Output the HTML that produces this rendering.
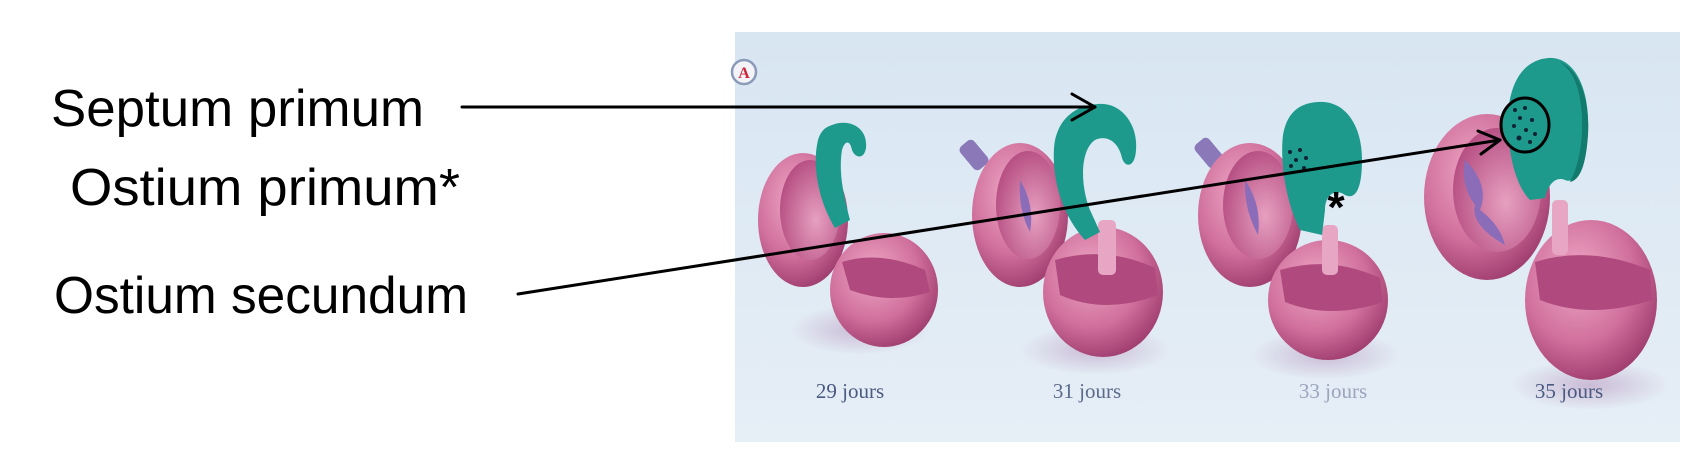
<!DOCTYPE html>
<html><head><meta charset="utf-8"><style>
html,body{margin:0;padding:0;background:#fff;}
svg{display:block}
</style></head><body>
<svg width="1692" height="460" viewBox="0 0 1692 460" xmlns="http://www.w3.org/2000/svg">
<defs>
<linearGradient id="bg" x1="0" y1="0" x2="0" y2="1">
<stop offset="0" stop-color="#d8e6f2"/><stop offset="1" stop-color="#e6eef6"/></linearGradient>
<radialGradient id="pk" cx="0.4" cy="0.35" r="0.7">
<stop offset="0" stop-color="#eea8c6"/><stop offset="0.6" stop-color="#d06f9c"/><stop offset="1" stop-color="#9c3a6c"/></radialGradient>
<radialGradient id="pkin" cx="0.6" cy="0.6" r="0.7">
<stop offset="0" stop-color="#e6a0c0"/><stop offset="1" stop-color="#b2477d"/></radialGradient>
<radialGradient id="sh" cx="0.5" cy="0.5" r="0.5">
<stop offset="0" stop-color="#c0a6c8" stop-opacity="0.7"/><stop offset="1" stop-color="#c0a6c8" stop-opacity="0"/></radialGradient>
</defs>
<rect x="0" y="0" width="1692" height="460" fill="#fff"/>
<rect x="735" y="32" width="945" height="410" fill="url(#bg)"/>
<circle cx="744" cy="72" r="12" fill="#f4f4f8" stroke="#8a9ab8" stroke-width="2.5"/>
<text x="744" y="78" font-family="Liberation Serif, serif" font-size="16" font-weight="bold" fill="#c8283a" text-anchor="middle">A</text>

<!-- Heart 1 -->
<ellipse cx="860" cy="330" rx="70" ry="25" fill="url(#sh)"/>
<ellipse cx="803" cy="220" rx="45" ry="67" fill="url(#pk)"/>
<ellipse cx="810" cy="210" rx="30" ry="50" fill="url(#pkin)"/>
<ellipse cx="884" cy="290" rx="54" ry="57" fill="url(#pk)"/>
<path d="M842 262 Q880 250 925 270 L930 292 Q890 305 850 290 Z" fill="#b04a7e"/>
<path d="M832 125 C850 118 868 128 866 148 C864 160 855 158 852 150 C850 140 845 140 842 150 C838 175 845 200 850 220 L835 228 C818 200 812 165 818 140 C821 130 826 127 832 125 Z" fill="#1e9a8c"/>

<!-- Heart 2 -->
<rect x="965" y="140" width="18" height="30" rx="5" fill="#8a78b8" transform="rotate(-40 974 155)"/>
<ellipse cx="1095" cy="350" rx="75" ry="25" fill="url(#sh)"/>
<ellipse cx="1020" cy="215" rx="48" ry="72" fill="url(#pk)"/>
<ellipse cx="1028" cy="205" rx="32" ry="54" fill="url(#pkin)"/>
<path d="M1020 180 Q1035 205 1030 232 Q1018 210 1020 180 Z" fill="#8a6cb8"/>
<ellipse cx="1103" cy="292" rx="60" ry="65" fill="url(#pk)"/>
<path d="M1055 260 Q1105 245 1155 268 L1158 295 Q1105 315 1060 295 Z" fill="#b04a7e"/>
<rect x="1098" y="220" width="18" height="55" rx="5" fill="#e6a6c4"/>
<path d="M1098 104 C1122 102 1138 125 1136 150 C1135 168 1125 168 1122 158 C1118 140 1105 135 1095 140 C1080 150 1080 185 1090 210 L1100 232 L1085 240 C1062 215 1052 180 1054 148 C1056 120 1075 105 1098 104 Z" fill="#1e9a8c"/>

<!-- Heart 3 -->
<rect x="1200" y="138" width="18" height="30" rx="5" fill="#8a78b8" transform="rotate(-40 1209 153)"/>
<ellipse cx="1325" cy="355" rx="75" ry="25" fill="url(#sh)"/>
<ellipse cx="1250" cy="215" rx="52" ry="72" fill="url(#pk)"/>
<ellipse cx="1258" cy="205" rx="35" ry="54" fill="url(#pkin)"/>
<path d="M1245 180 Q1262 205 1258 235 Q1244 210 1245 180 Z" fill="#8a6cb8"/>
<ellipse cx="1328" cy="300" rx="60" ry="60" fill="url(#pk)"/>
<path d="M1280 270 Q1330 255 1380 278 L1383 302 Q1330 320 1285 302 Z" fill="#b04a7e"/>
<rect x="1322" y="225" width="16" height="50" rx="5" fill="#e6a6c4"/>
<path d="M1318 102 C1345 100 1362 125 1362 160 C1362 190 1355 200 1345 195 C1335 188 1325 195 1325 210 L1322 235 L1300 230 C1285 200 1280 160 1283 135 C1287 112 1300 103 1318 102 Z" fill="#1e9a8c"/>
<g fill="#123">
<circle cx="1290" cy="152" r="2"/><circle cx="1300" cy="150" r="2"/><circle cx="1296" cy="160" r="2"/><circle cx="1306" cy="158" r="2"/><circle cx="1304" cy="168" r="2"/><circle cx="1291" cy="166" r="2"/>
</g>
<text x="1336" y="222" font-family="Liberation Sans, sans-serif" font-size="44" font-weight="bold" fill="#000" text-anchor="middle">*</text>

<!-- Heart 4 -->
<ellipse cx="1590" cy="385" rx="80" ry="25" fill="url(#sh)"/>
<ellipse cx="1487" cy="197" rx="63" ry="83" fill="url(#pk)"/>
<ellipse cx="1497" cy="190" rx="44" ry="62" fill="url(#pkin)"/>
<path d="M1465 160 Q1490 185 1480 210 Q1500 225 1505 245 Q1470 225 1475 205 Q1460 185 1465 160 Z" fill="#8a6cb8"/>
<ellipse cx="1591" cy="300" rx="66" ry="80" fill="url(#pk)"/>
<path d="M1535 262 Q1590 245 1650 270 L1652 300 Q1590 320 1540 300 Z" fill="#b04a7e"/>
<rect x="1552" y="200" width="16" height="55" rx="5" fill="#e6a6c4"/>
<path d="M1548 58 C1575 56 1590 90 1588 130 C1586 165 1578 185 1565 180 C1555 176 1548 185 1545 198 L1530 200 C1515 185 1507 150 1508 115 C1510 80 1525 60 1548 58 Z" fill="#1e9a8c"/>
<path d="M1560 62 C1580 70 1590 100 1588 135 C1586 165 1580 180 1570 182 C1582 160 1586 120 1578 90 C1574 75 1568 68 1560 62 Z" fill="#137a6e"/>
<ellipse cx="1525" cy="125" rx="24" ry="27" fill="#1e9a8c" stroke="#000" stroke-width="3"/>
<g fill="#123">
<circle cx="1515" cy="110" r="2"/><circle cx="1525" cy="108" r="2"/><circle cx="1520" cy="118" r="2"/><circle cx="1532" cy="120" r="2"/><circle cx="1514" cy="126" r="2"/><circle cx="1526" cy="130" r="2"/><circle cx="1535" cy="134" r="2"/><circle cx="1519" cy="138" r="2.5"/><circle cx="1530" cy="142" r="2"/>
</g>

<!-- day labels -->
<g font-family="Liberation Serif, serif" font-size="21" text-anchor="middle">
<text x="850" y="398" fill="#4a5a80">29 jours</text>
<text x="1087" y="398" fill="#5a6a8a">31 jours</text>
<text x="1333" y="398" fill="#9aa4bc">33 jours</text>
<text x="1569" y="398" fill="#4a5a80">35 jours</text>
</g>

<!-- labels -->
<g font-family="Liberation Sans, sans-serif" font-size="52" fill="#000">
<text x="51" y="126" textLength="373" lengthAdjust="spacingAndGlyphs">Septum primum</text>
<text x="70" y="205" textLength="390" lengthAdjust="spacingAndGlyphs">Ostium primum*</text>
<text x="54" y="313" textLength="414" lengthAdjust="spacingAndGlyphs">Ostium secundum</text>
</g>

<!-- arrows -->
<g stroke="#000" stroke-width="3" fill="none" stroke-linecap="round" stroke-linejoin="round">
<line x1="462" y1="107" x2="1095" y2="107"/>
<polyline points="1072,94 1095,107 1072,120"/>
<line x1="518" y1="294" x2="1500" y2="140"/>
<polyline points="1478,131 1500,140 1481,154"/>
</g>
</svg>
</body></html>
